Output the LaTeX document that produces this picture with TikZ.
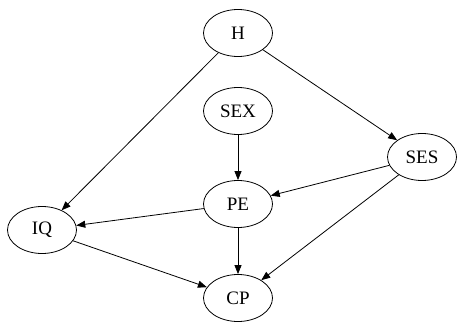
\documentclass[tikz,border=0pt]{standalone}
\usepackage{fontspec}
\setmainfont{Liberation Serif}
\usetikzlibrary{shapes.geometric,arrows.meta}
\begin{document}
\begin{tikzpicture}[x=1pt,y=-1pt,
  var/.style={ellipse,draw,line width=0.8pt,minimum width=69pt,minimum height=47pt,inner sep=0pt,font=\fontsize{19}{19}\selectfont},
  link/.style={draw,line width=0.8pt,-{Triangle[length=9pt,width=7pt]}}]
\useasboundingbox (0,0) rectangle (457,329);
\node[var] (H)   at (238,33)  {H};
\node[var] (SEX) at (238,111) {SEX};
\node[var] (SES) at (422,157) {SES};
\node[var] (PE)  at (238,204) {PE};
\node[var] (IQ)  at (42,230)  {IQ};
\node[var] (CP)  at (238,298) {CP};
\draw[link] (H) -- (IQ);
\draw[link] (H) -- (SES);
\draw[link] (SEX) -- (PE);
\draw[link] (SES) -- (PE);
\draw[link] (SES) -- (CP);
\draw[link] (PE) -- (IQ);
\draw[link] (PE) -- (CP);
\draw[link] (IQ) -- (CP);
\end{tikzpicture}
\end{document}
